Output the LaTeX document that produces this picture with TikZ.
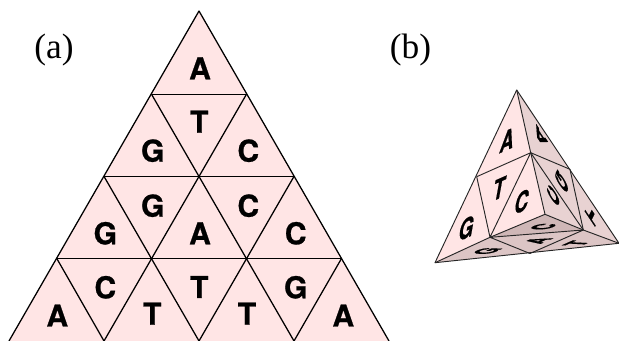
\documentclass[tikz,border=0pt]{standalone}
\usepackage{fontspec}
\setmainfont{Liberation Serif}
\newfontfamily\lett[BoldFeatures={FakeBold=0.8}]{TeX Gyre Heros}
\definecolor{faceA}{HTML}{FFE5E5}
\definecolor{faceB}{HTML}{E8D2D2}
\definecolor{faceC}{HTML}{DCC5C5}
\definecolor{faceD}{HTML}{CFB7B7}
\tikzset{
  edge/.style={draw=black,line width=0.95pt,line join=round},
  base/.style={inner sep=0pt,font=\lett\bfseries\fontsize{22.6}{24}\selectfont},
  small/.style={inner sep=0pt,font=\lett\bfseries\fontsize{24.5}{26}\selectfont},
  lab/.style={inner sep=0pt,font=\fontsize{26.5}{30}\selectfont},
  fold/.style={draw=black!85,line width=0.7pt,line join=round},
  front/.style={cm={0.579,0.255,0.161,0.891,(0,0)}},
  side/.style={cm={-0.538,0.807,-0.139,-0.289,(0,0)}},
  under/.style={cm={0.579,0.255,-0.784,0.036,(0,0)}}
}
\newcommand{\letter}[5]{\begin{scope}[shift={(#2,#3)},#4]\node[small,transform shape] (#1) at (0,0) {#5};\end{scope}}
\begin{document}
\begin{tikzpicture}[x=0.75pt,y=-0.75pt]
\useasboundingbox (0,0) rectangle (619,340);
% (a)
\begin{scope}
\clip (0,0) rectangle (619,340);
\coordinate (T) at (199,11);
\coordinate (L1) at (151.5,94.2); \coordinate (R1) at (246.5,94.2);
\coordinate (L2) at (104,176.4); \coordinate (M2) at (199,176.4); \coordinate (R2) at (294,176.4);
\coordinate (L3) at (56.8,258.5); \coordinate (M3a) at (151.5,258.5); \coordinate (M3b) at (246.5,258.5); \coordinate (R3) at (341.5,258.5);
\coordinate (B0) at (9,341); \coordinate (B1) at (104,341); \coordinate (B2) at (199,341); \coordinate (B3) at (294,341); \coordinate (B4) at (389,341);
\fill[faceA] (T) -- (B0) -- (B4) -- cycle;
\draw[edge] (B0) -- (T) -- (B4);
\draw[edge] (L1) -- (R1) (L2) -- (R2) (L3) -- (R3);
\draw[edge] (L1) -- (B3) (L2) -- (B2) (L3) -- (B1);
\draw[edge] (R1) -- (B1) (R2) -- (B2) (R3) -- (B3);
\end{scope}
\foreach \n/\x/\y/\t in {a1/200/68.3/A,a2/199.3/121.7/T,a3/152.7/150.7/G,a4/248.3/150.7/C,a5/152.7/205.7/G,a6/248.3/205.7/C,a7/105.3/233.3/G,a8/200/233.3/A,a9/295.7/233.3/C,a10/105.3/287.3/C,a11/199.3/287/T,a12/295.7/287.3/G,a13/57.3/315.5/A,a14/152.3/313.7/T,a15/247/313.7/T,a16/343.3/315.5/A}
  \node[base] (\n) at (\x,\y) {\t};
\node[lab] (la) at (54,50) {(a)};
\node[lab] (lb) at (410.5,50) {(b)};
% (b)
\coordinate (P) at (516.7,90);
\coordinate (Q) at (435,262.7);
\coordinate (S) at (619,243.3);
\coordinate (C0) at (530.7,152.7);
\coordinate (E1) at (476.7,176.7);
\coordinate (C1) at (490,237.3);
\coordinate (C2) at (545,214.3);
\coordinate (C3) at (583.3,230);
\coordinate (E2) at (570,169.3);
\coordinate (E3) at (530,253.5);
\fill[faceA] (P) -- (Q) -- (C1) -- (C2) -- (C0) -- cycle;
\fill[faceB] (P) -- (C0) -- (C2) -- (C3) -- (S) -- cycle;
\fill[faceC] (Q) -- (C1) -- (C3) -- (S) -- cycle;
\fill[faceD] (C1) -- (C2) -- (C3) -- cycle;
\draw[fold] (Q) -- (P) -- (S) -- cycle;
\draw[fold] (P) -- (C0) -- (C2) -- (C1) -- (Q);
\draw[fold] (E1) -- (C0) -- (C1) -- (E1);
\draw[fold] (C0) -- (C3) -- (S);
\draw[fold] (C0) -- (E2) -- (C3) -- (C2);
\draw[fold] (C1) -- (E3) -- (C3) -- (C1);
\letter{b1}{507.5}{140}{front}{A}
\letter{b2}{499.3}{188.5}{front}{T}
\letter{b3}{466.7}{228}{front}{G}
\letter{b4}{522}{201.5}{front}{C}
\letter{b5}{540.5}{136.5}{side}{A}
\letter{b6}{561.5}{181.5}{side}{G}
\letter{b7}{553.3}{195.5}{side}{C}
\letter{b8}{591.5}{215.5}{side}{T}
\letter{b9}{486.7}{251}{under}{G}
\letter{b10}{543}{226.7}{under}{C}
\letter{b11}{537.5}{240.7}{under}{A}
\letter{b12}{576.7}{243.3}{under}{T}
\end{tikzpicture}
\end{document}
